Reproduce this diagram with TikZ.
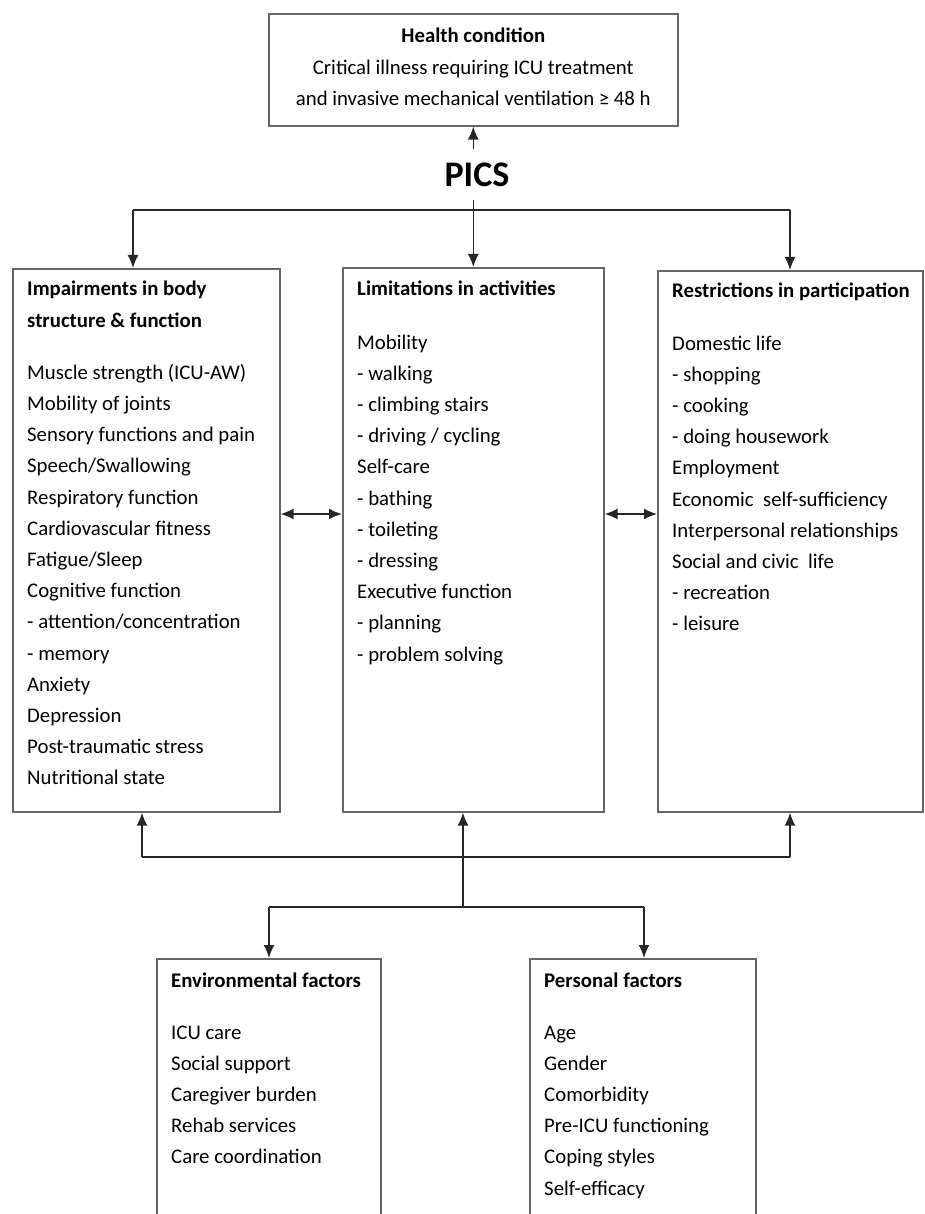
\documentclass[tikz,border=0pt]{standalone}
\usepackage{fontspec}
\setmainfont{Carlito}
\usetikzlibrary{arrows.meta,positioning}

\tikzset{
	box/.style={draw=black!60, line width=1.6pt, anchor=north west, inner sep=0pt},
	boxtext/.style={anchor=north west, align=left, inner sep=0pt, font=\fontsize{20.8}{31.2}\selectfont},
	link/.style={draw=black!85, line width=1.6pt},
	arr/.style={link, -{Latex[length=13pt,width=11pt]}},
	dbl/.style={link, {Latex[length=13pt,width=11pt]}-{Latex[length=13pt,width=11pt]}}
}

\begin{document}
\begin{tikzpicture}[x=1pt,y=-1pt]
	\useasboundingbox (0,0) rectangle (925,1214);
	\clip (0,0) rectangle (925,1214);
	% health condition and PICS
	\node[box, minimum width=409pt, minimum height=112pt] (health) at (268,13) {};
	\node[boxtext, anchor=north, align=center] (healthtxt) at ([yshift=-15pt]health.north)
		{\textbf{Health condition}\\Critical illness requiring ICU treatment\\and invasive mechanical ventilation ≥ 48 h};
	\node[anchor=base, inner sep=0pt, font=\fontsize{36}{40}\selectfont\bfseries] (pics) at (477,187) {PICS};
	% the three ICF boxes
	\node[box, minimum width=267pt, minimum height=543pt] (body) at (12,268) {};
	\node[box, minimum width=261pt, minimum height=544pt] (act) at (342,267) {};
	\node[box, minimum width=265pt, minimum height=541pt] (part) at (657,270) {};
	\node[boxtext] (bodytxt) at ([shift={(15pt,-13pt)}]body.north west)
		{\textbf{Impairments in body}\\\textbf{structure \& function}\\[21pt]Muscle strength (ICU-AW)\\Mobility of joints\\Sensory functions and pain\\Speech/Swallowing\\Respiratory function\\Cardiovascular fitness\\Fatigue/Sleep\\Cognitive function\\- attention/concentration\\- memory\\Anxiety\\Depression\\Post-traumatic stress\\Nutritional state};
	\node[boxtext] (acttxt) at ([shift={(15pt,-14pt)}]act.north west)
		{\textbf{Limitations in activities}\\[22pt]Mobility\\- walking\\- climbing stairs\\- driving / cycling\\Self-care\\- bathing\\- toileting\\- dressing\\Executive function\\- planning\\- problem solving};
	\node[boxtext] (parttxt) at ([shift={(15pt,-13pt)}]part.north west)
		{\textbf{Restrictions in participation}\\[21pt]Domestic life\\- shopping\\- cooking\\- doing housework\\Employment\\Economic\ \ self-sufficiency\\Interpersonal relationships\\Social and civic\ \ life\\- recreation\\- leisure};
	% contextual factors
	\node[box, minimum width=224pt, minimum height=300pt] (env) at (156,958) {};
	\node[box, minimum width=226pt, minimum height=300pt] (pers) at (529,958) {};
	\node[boxtext] (envtxt) at ([shift={(15pt,-15pt)}]env.north west)
		{\textbf{Environmental factors}\\[20pt]ICU care\\Social support\\Caregiver burden\\Rehab services\\Care coordination};
	\node[boxtext] (perstxt) at ([shift={(15pt,-15pt)}]pers.north west)
		{\textbf{Personal factors}\\[20pt]Age\\Gender\\Comorbidity\\Pre-ICU functioning\\Coping styles\\Self-efficacy};
	% top connectors
	\coordinate (tl) at (133,210);
	\coordinate (tr) at (790,210);
	\draw[arr] ([yshift=14pt]pics.north -| health.south) -- (health.south);
	\draw[arr] ([yshift=-13pt]pics.south -| health.south) -- (health.south |- act.north);
	\draw[link] (tl) -- (tr);
	\draw[arr] (tl) -- (tl |- body.north);
	\draw[arr] (tr) -- (tr |- part.north);
	% side arrows
	\coordinate (mid) at (0,514);
	\draw[dbl] (body.east |- mid) -- (act.west |- mid);
	\draw[dbl] (act.east |- mid) -- (part.west |- mid);
	% bottom connectors
	\coordinate (bl) at (142,857);
	\coordinate (br) at (790,857);
	\coordinate (bm) at (463,907);
	\coordinate (el) at (269,907);
	\coordinate (pr) at (644,907);
	\draw[link] (bl) -- (br);
	\draw[arr] (bl) -- (bl |- body.south);
	\draw[arr] (br) -- (br |- part.south);
	\draw[arr] (bm) -- (bm |- act.south);
	\draw[link] (el) -- (pr);
	\draw[arr] (el) -- (el |- env.north);
	\draw[arr] (pr) -- (pr |- pers.north);
\end{tikzpicture}
\end{document}
